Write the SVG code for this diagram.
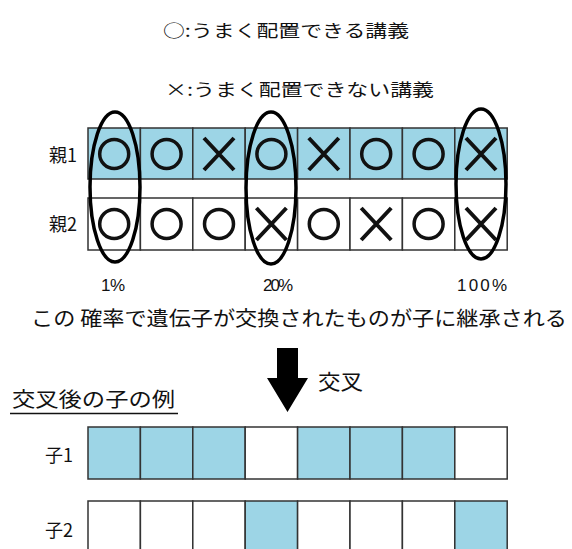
<svg xmlns="http://www.w3.org/2000/svg" width="572" height="549" viewBox="0 0 572 549">
<defs>
<style>
.t{font-family:"Noto Sans CJK JP","Noto Sans",sans-serif;fill:#111;}
.lat{font-family:"Liberation Sans","Noto Sans CJK JP",sans-serif;fill:#111;}
.b{fill:#9dd5e6;stroke:#333;stroke-width:1.5;}
.w{fill:#fff;stroke:#333;stroke-width:1.5;}
.o{fill:none;stroke:#111;stroke-width:3.5;}
.x{stroke:#111;stroke-width:4;stroke-linecap:butt;}
.el{fill:none;stroke:#000;stroke-width:3.5;}
</style>
<g id="oMark"><circle cx="0" cy="0" r="14.5" class="o"/></g>
<g id="xMark"><path d="M-15,-16 L15,16 M15,-16 L-15,16" class="x"/></g>
</defs>
<rect width="572" height="549" fill="#fff"/>

<g id="legend">
<text class="t" x="163" y="37" font-size="17" textLength="246" lengthAdjust="spacingAndGlyphs">○:うまく配置できる講義</text>
<text class="t" x="165" y="96" font-size="17" textLength="269" lengthAdjust="spacingAndGlyphs">×:うまく配置できない講義</text>
</g>

<g id="parent1">
<text class="t" x="77" y="162" font-size="18" text-anchor="end">親1</text>
<rect class="b" x="88" y="128" width="52.4" height="51"/>
<rect class="b" x="140.4" y="128" width="52.4" height="51"/>
<rect class="b" x="192.8" y="128" width="52.4" height="51"/>
<rect class="b" x="245.2" y="128" width="52.4" height="51"/>
<rect class="b" x="297.6" y="128" width="52.4" height="51"/>
<rect class="b" x="350" y="128" width="52.4" height="51"/>
<rect class="b" x="402.4" y="128" width="52.4" height="51"/>
<rect class="b" x="454.8" y="128" width="52.4" height="51"/>
<use href="#oMark" x="114.2" y="154"/>
<use href="#oMark" x="166.6" y="154"/>
<use href="#xMark" x="219" y="154"/>
<use href="#oMark" x="271.4" y="154"/>
<use href="#xMark" x="323.8" y="154"/>
<use href="#oMark" x="376.2" y="154"/>
<use href="#oMark" x="428.6" y="154"/>
<use href="#xMark" x="481" y="154"/>
</g>

<g id="parent2">
<text class="t" x="77" y="231" font-size="18" text-anchor="end">親2</text>
<rect class="w" x="88" y="198" width="52.4" height="52"/>
<rect class="w" x="140.4" y="198" width="52.4" height="52"/>
<rect class="w" x="192.8" y="198" width="52.4" height="52"/>
<rect class="w" x="245.2" y="198" width="52.4" height="52"/>
<rect class="w" x="297.6" y="198" width="52.4" height="52"/>
<rect class="w" x="350" y="198" width="52.4" height="52"/>
<rect class="w" x="402.4" y="198" width="52.4" height="52"/>
<rect class="w" x="454.8" y="198" width="52.4" height="52"/>
<use href="#oMark" x="114.2" y="224"/>
<use href="#oMark" x="166.6" y="224"/>
<use href="#oMark" x="219" y="224"/>
<use href="#xMark" x="271.4" y="224"/>
<use href="#oMark" x="323.8" y="224"/>
<use href="#xMark" x="376.2" y="224"/>
<use href="#oMark" x="428.6" y="224"/>
<use href="#xMark" x="481" y="224"/>
</g>

<g id="selections">
<ellipse class="el" cx="115" cy="187" rx="25" ry="75"/>
<ellipse class="el" cx="271" cy="188" rx="25" ry="76"/>
<ellipse class="el" cx="481" cy="184" rx="25" ry="75"/>
</g>

<g id="probabilities">
<text class="lat" x="101" y="291" font-size="17" textLength="24" lengthAdjust="spacing">1%</text>
<text class="lat" x="263" y="291" font-size="17" textLength="30" lengthAdjust="spacing">20%</text>
<text class="lat" x="457" y="291" font-size="17" textLength="50" lengthAdjust="spacing">100%</text>
</g>

<g id="caption">
<text class="t" x="31" y="326" font-size="20" textLength="536" lengthAdjust="spacingAndGlyphs">この 確率で遺伝子が交換されたものが子に継承される</text>
</g>

<g id="connectors">
<polygon points="277,348 298,348 298,378 308,378 287.5,412 267,378 277,378" fill="#000"/>
<text class="t" x="318" y="389" font-size="21" textLength="45" lengthAdjust="spacingAndGlyphs">交叉</text>
</g>

<g id="childTitle">
<text class="t" x="12" y="407" font-size="20" textLength="163" lengthAdjust="spacingAndGlyphs">交叉後の子の例</text>
<line x1="10" y1="413.5" x2="178" y2="413.5" stroke="#111" stroke-width="1.5"/>
</g>

<g id="child1">
<text class="t" x="73" y="462" font-size="18" text-anchor="end">子1</text>
<rect class="b" x="88" y="427" width="52.4" height="52"/>
<rect class="b" x="140.4" y="427" width="52.4" height="52"/>
<rect class="b" x="192.8" y="427" width="52.4" height="52"/>
<rect class="w" x="245.2" y="427" width="52.4" height="52"/>
<rect class="b" x="297.6" y="427" width="52.4" height="52"/>
<rect class="b" x="350" y="427" width="52.4" height="52"/>
<rect class="b" x="402.4" y="427" width="52.4" height="52"/>
<rect class="w" x="454.8" y="427" width="52.4" height="52"/>
</g>

<g id="child2">
<text class="t" x="73" y="537" font-size="18" text-anchor="end">子2</text>
<rect class="w" x="88" y="501" width="52.4" height="60"/>
<rect class="w" x="140.4" y="501" width="52.4" height="60"/>
<rect class="w" x="192.8" y="501" width="52.4" height="60"/>
<rect class="b" x="245.2" y="501" width="52.4" height="60"/>
<rect class="w" x="297.6" y="501" width="52.4" height="60"/>
<rect class="w" x="350" y="501" width="52.4" height="60"/>
<rect class="w" x="402.4" y="501" width="52.4" height="60"/>
<rect class="b" x="454.8" y="501" width="52.4" height="60"/>
</g>
</svg>
